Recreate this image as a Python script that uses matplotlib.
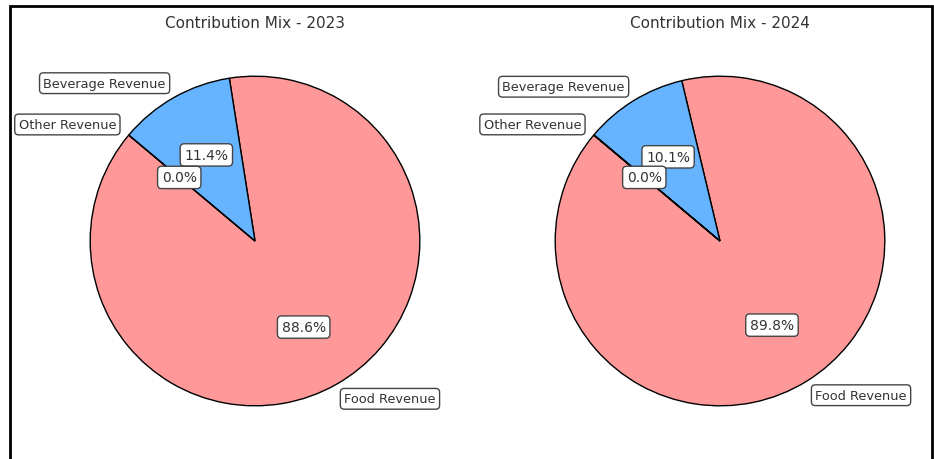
import matplotlib.pyplot as plt
import matplotlib.patches as mpatches

labels = ["Food Revenue", "Beverage Revenue", "Other Revenue"]
colors = ["#ff9999", "#66b3ff", "#99ff99"]
years = ["2023", "2024"]
mix_2023 = [88.6, 11.4, 0.0]
mix_2024 = [89.84, 10.14, 0.02]

fig = plt.figure(figsize=(9.34, 4.6), dpi=100)
W, H = 934, 460

box = dict(boxstyle="round,pad=0.3", facecolor="white", edgecolor="#444444", linewidth=1)

for cx, year, vals in [(255, years[0], mix_2023), (720, years[1], mix_2024)]:
    half = 206
    ax = fig.add_axes([(cx - half) / W, 12 / H, 2 * half / W, 2 * half / H])
    wedges, texts, autotexts = ax.pie(
        vals, labels=labels, colors=colors, startangle=140,
        autopct="%1.1f%%", pctdistance=0.6, labeldistance=1.1,
        wedgeprops=dict(edgecolor="black", linewidth=1),
        textprops=dict(fontsize=10, color="#333333"))
    for t in texts:
        t.set_fontsize(9.3)
    for t in texts + autotexts:
        t.set_bbox(box)
    ax.set_title("Contribution Mix - " + year, fontsize=11, color="#333333")

# screenshot frame
fig.patches.append(mpatches.Rectangle((9.5 / W, -0.1), (932 - 9.5) / W, (460 - 6.5) / H + 0.1,
                                      transform=fig.transFigure, fill=False,
                                      edgecolor="black", linewidth=2))

plt.savefig("out.png", dpi=100)
